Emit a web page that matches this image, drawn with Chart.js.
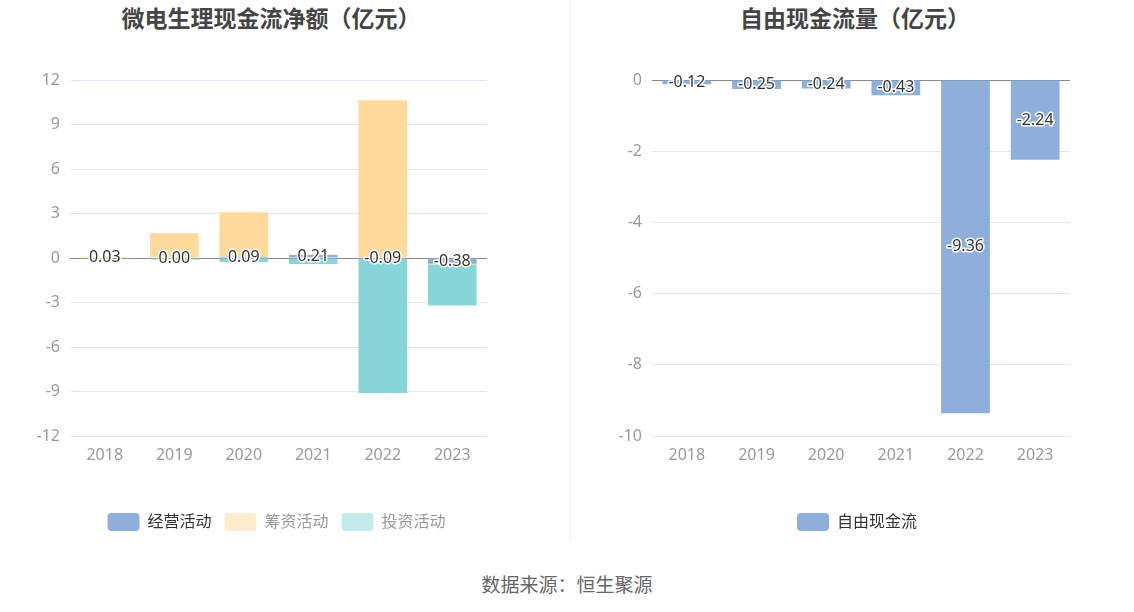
<!DOCTYPE html>
<html>
<head>
<meta charset="utf-8">
<script src="https://cdn.jsdelivr.net/npm/chart.js@4.4.0/dist/chart.umd.min.js"></script>
<style>
  body { margin: 0; background: #fff; font-family: "Noto Sans CJK SC", sans-serif; }
  #wrap { position: relative; width: 1134px; height: 612px; overflow: hidden; }
  .title { position: absolute; top: 0; font-size: 23px; font-weight: bold; color: #444; text-align: center; }
  .box { position: absolute; top: 55px; height: 486px; }
  #divider { position: absolute; left: 570px; top: 0; width: 1px; height: 542px; background: #eee; }
  #source { position: absolute; top: 570px; width: 1134px; text-align: center; font-size: 19px; color: #666; }
</style>
</head>
<body>
<div id="wrap">
  <div class="title" style="left:0;width:542px;">微电生理现金流净额（亿元）</div>
  <div class="title" style="left:580px;width:550px;">自由现金流量（亿元）</div>
  <div class="box" style="left:0;width:553px;"><canvas id="cashChart"></canvas></div>
  <div id="divider"></div>
  <div class="box" style="left:580px;width:554px;"><canvas id="freeChart"></canvas></div>
  <div id="source">数据来源：恒生聚源</div>
</div>
<script>
const years = ['2018', '2019', '2020', '2021', '2022', '2023'];
const operating = [0.03, 0.00, 0.09, 0.21, -0.09, -0.38];
const financing = [0.05, 1.67, 2.99, 0.02, 10.63, -0.05];
const investing = [-0.01, -0.10, -0.27, -0.40, -9.01, -2.78];
const freeCash = [-0.12, -0.25, -0.24, -0.43, -9.36, -2.24];

const blue = '#8eaedb';
const orange = '#ffd99b';
const teal = '#87d5d8';

// draws the value in the middle of each bar of one dataset, dark text with white halo
const valueLabels = {
    id: 'valueLabels',
    afterDatasetsDraw(chart, args, opts) {
        let ctx = chart.ctx;
        let meta = chart.getDatasetMeta(opts.datasetIndex);
        let values = chart.data.datasets[opts.datasetIndex].data;
        ctx.save();
        ctx.font = '16px "Noto Sans", sans-serif';
        ctx.textAlign = 'center';
        ctx.textBaseline = 'middle';
        ctx.lineJoin = 'round';
        meta.data.forEach((bar, j) => {
            let p = bar.getProps(['x', 'y', 'base'], true);
            let cy = (p.y + p.base) / 2;
            let txt = values[j].toFixed(2);
            ctx.strokeStyle = '#fff';
            ctx.lineWidth = 3;
            ctx.strokeText(txt, p.x, cy);
            ctx.fillStyle = '#333';
            ctx.fillText(txt, p.x, cy);
        });
        ctx.restore();
    }
};

function gridColor(c) {
    return c.tick && c.tick.value === 0 ? '#888' : '#e0e6f1';
}

// empty axis on the right so the plot ends early but the legend stays centred
function spacer(w) {
    return {
        position: 'right',
        grid: { display: false },
        border: { display: false },
        ticks: { display: false },
        afterFit(scale) { scale.width = w; }
    };
}

Chart.defaults.font.family = '"Noto Sans", "Noto Sans CJK SC", sans-serif';
Chart.defaults.animation = false;

new Chart(document.getElementById('cashChart'), {
    type: 'bar',
    data: {
        labels: years,
        datasets: [
            { label: '经营活动', data: operating, backgroundColor: blue },
            { label: '筹资活动', data: financing, backgroundColor: orange },
            { label: '投资活动', data: investing, backgroundColor: teal }
        ]
    },
    options: {
        responsive: true,
        maintainAspectRatio: false,
        barPercentage: 0.7,
        categoryPercentage: 1,
        layout: { padding: { top: 25, right: 0, left: 0, bottom: 0 } },
        scales: {
            x: {
                stacked: true,
                grid: { display: false },
                border: { display: false },
                ticks: { color: '#999', font: { size: 16 }, padding: 2 },
                afterFit(scale) { scale.height = 64; }
            },
            y: {
                stacked: true,
                min: -12, max: 12,
                ticks: { stepSize: 3, color: '#999', font: { size: 16 }, padding: 10 },
                grid: { color: gridColor, drawTicks: false },
                border: { display: false },
                afterFit(scale) { scale.width = 70; }
            },
            pad: spacer(66)
        },
        plugins: {
            tooltip: { enabled: false },
            valueLabels: { datasetIndex: 0 },
            legend: {
                position: 'bottom',
                labels: {
                    boxWidth: 32, boxHeight: 18, useBorderRadius: true, borderRadius: 4,
                    padding: 13, font: { size: 16 },
                    generateLabels(chart) {
                        const fills = [blue, '#ffebcd', '#c3ebec'];
                        const texts = ['#333', '#999', '#999'];
                        return chart.data.datasets.map((d, i) => ({
                            text: d.label, fillStyle: fills[i], strokeStyle: fills[i],
                            lineWidth: 0, fontColor: texts[i], datasetIndex: i, borderRadius: 4
                        }));
                    }
                }
            }
        }
    },
    plugins: [valueLabels]
});

new Chart(document.getElementById('freeChart'), {
    type: 'bar',
    data: {
        labels: years,
        datasets: [{ label: '自由现金流', data: freeCash, backgroundColor: blue }]
    },
    options: {
        responsive: true,
        maintainAspectRatio: false,
        barPercentage: 0.7,
        categoryPercentage: 1,
        layout: { padding: { top: 25, right: 0, left: 0, bottom: 0 } },
        scales: {
            x: {
                grid: { display: false },
                border: { display: false },
                ticks: { color: '#999', font: { size: 16 }, padding: 2 },
                afterFit(scale) { scale.height = 64; }
            },
            y: {
                min: -10, max: 0,
                ticks: { stepSize: 2, color: '#999', font: { size: 16 }, padding: 10 },
                grid: { color: gridColor, drawTicks: false },
                border: { display: false },
                afterFit(scale) { scale.width = 72; }
            },
            pad: spacer(64)
        },
        plugins: {
            tooltip: { enabled: false },
            valueLabels: { datasetIndex: 0 },
            legend: {
                position: 'bottom',
                labels: {
                    boxWidth: 32, boxHeight: 18, useBorderRadius: true, borderRadius: 4,
                    padding: 13, font: { size: 16 }, color: '#333'
                }
            }
        }
    },
    plugins: [valueLabels]
});
</script>
</body>
</html>
